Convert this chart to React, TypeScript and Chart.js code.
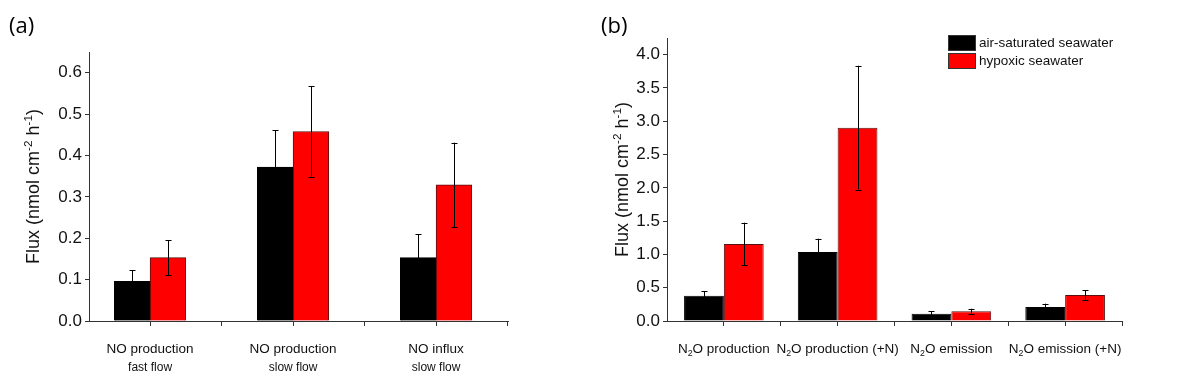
import React, { useEffect, useRef } from 'react';
import { Chart, registerables } from 'chart.js';
Chart.register(...registerables);

const FONT = '"Liberation Sans", Arial, sans-serif';

const seriesNames = ['air-saturated seawater', 'hypoxic seawater'];
const seriesColors = ['#000000', '#ff0000'];

const catA1 = ['NO production', 'NO production', 'NO influx'];
const catA2 = ['fast flow', 'slow flow', 'slow flow'];
const airA = [0.096, 0.372, 0.153];
const airAErr = [0.027, 0.089, 0.057];
const hypA = [0.153, 0.458, 0.329];
const hypAErr = [0.042, 0.109, 0.102];

const catB = ['N_{2}O production', 'N_{2}O production (+N)', 'N_{2}O emission', 'N_{2}O emission (+N)'];
const airB = [0.379, 1.037, 0.11, 0.21];
const airBErr = [0.07, 0.2, 0.035, 0.05];
const hypB = [1.157, 2.904, 0.145, 0.389];
const hypBErr = [0.32, 0.93, 0.04, 0.07];

const yTitle = 'Flux (nmol cm^{-2} h^{-1})';
const yTicksA = { max: 0.65, step: 0.05, major: 0.1 };
const yTicksB = { max: 4.25, step: 0.25, major: 0.5 };

type Seg = { t: string; k: 'n' | 'sup' | 'sub' };
function parseRich(s: string): Seg[] {
  const out: Seg[] = [];
  const re = /([\^_])\{([^}]*)\}/g;
  let last = 0;
  let m: RegExpExecArray | null;
  while ((m = re.exec(s))) {
    if (m.index > last) out.push({ t: s.slice(last, m.index), k: 'n' });
    out.push({ t: m[2], k: m[1] === '^' ? 'sup' : 'sub' });
    last = re.lastIndex;
  }
  if (last < s.length) out.push({ t: s.slice(last), k: 'n' });
  return out;
}

function drawRich(ctx: CanvasRenderingContext2D, s: string, x: number, y: number, size: number, align: 'left' | 'center', color: string) {
  const segs = parseRich(s);
  const small = size * 0.65;
  let w = 0;
  for (const sg of segs) {
    ctx.font = `${sg.k === 'n' ? size : small}px ${FONT}`;
    w += ctx.measureText(sg.t).width;
  }
  let cx = align === 'center' ? x - w / 2 : x;
  ctx.textAlign = 'left';
  ctx.textBaseline = 'alphabetic';
  ctx.fillStyle = color;
  for (const sg of segs) {
    const sz = sg.k === 'n' ? size : small;
    ctx.font = `${sz}px ${FONT}`;
    const dy = sg.k === 'sup' ? -size * 0.4 : sg.k === 'sub' ? size * 0.25 : 0;
    ctx.fillText(sg.t, cx, y + dy);
    cx += ctx.measureText(sg.t).width;
  }
}

type PanelCfg = {
  letter: string;
  lines1: string[];
  lines2: string[] | null;
  air: number[];
  airErr: number[];
  hyp: number[];
  hypErr: number[];
  yt: { max: number; step: number; major: number };
  xmin: number;
  xmax: number;
  catPct: number;
  yWidth: number;
  padTop: number;
  padRight: number;
  titleX: number;
  legend: boolean;
  tickFont: number;
};

function makeChart(canvas: HTMLCanvasElement, p: PanelCfg) {
  const n = p.air.length;
  const xTicks: number[] = [];
  for (let v = 1; v <= n + 0.5 + 1e-9; v += 0.5) xTicks.push(v);

  const errPlugin = {
    id: 'errbars',
    afterDatasetsDraw(chart: any) {
      const ctx = chart.ctx;
      const ys = chart.scales.y;
      const errs = [p.airErr, p.hypErr];
      const vals = [p.air, p.hyp];
      ctx.save();
      ctx.strokeStyle = '#000';
      ctx.lineWidth = 1;
      for (let d = 0; d < 2; d++) {
        const meta = chart.getDatasetMeta(d);
        meta.data.forEach((el: any, j: number) => {
          const x = Math.round(el.x) + 0.5;
          const top = ys.getPixelForValue(vals[d][j] + errs[d][j]);
          const bot = ys.getPixelForValue(vals[d][j] - errs[d][j]);
          ctx.beginPath();
          ctx.moveTo(x, bot);
          ctx.lineTo(x, top);
          ctx.moveTo(x - 3, Math.round(top) + 0.5);
          ctx.lineTo(x + 3, Math.round(top) + 0.5);
          ctx.moveTo(x - 3, Math.round(bot) + 0.5);
          ctx.lineTo(x + 3, Math.round(bot) + 0.5);
          ctx.stroke();
        });
      }
      ctx.restore();
    },
  };

  const textPlugin = {
    id: 'texts',
    afterDraw(chart: any) {
      const ctx = chart.ctx;
      const xs = chart.scales.x;
      const area = chart.chartArea;
      ctx.save();
      // panel letter
      ctx.font = `22px "Open Sans", ${FONT}`;
      ctx.fillStyle = '#000';
      ctx.textAlign = 'left';
      ctx.textBaseline = 'alphabetic';
      ctx.fillText(p.letter, p.letter === '(a)' ? 9 : 1, 33);
      // category labels
      for (let i = 0; i < n; i++) {
        const cx = xs.getPixelForValue(i + 1);
        drawRich(ctx, p.lines1[i], cx, 353, 13.5, 'center', '#111');
        if (p.lines2) drawRich(ctx, p.lines2[i], cx, 371, 12, 'center', '#111');
      }
      // y title
      ctx.save();
      ctx.translate(p.titleX, (area.top + area.bottom) / 2);
      ctx.rotate(-Math.PI / 2);
      drawRich(ctx, yTitle, 0, 0, 18, 'center', '#111');
      ctx.restore();
      // legend
      if (p.legend) {
        const lx = area.right - 174;
        const ly = area.top - 3;
        chart.data.datasets.forEach((ds: any, i: number) => {
          const by = ly + i * 18;
          ctx.fillStyle = ds.backgroundColor;
          ctx.fillRect(lx, by, 28, 16);
          ctx.strokeStyle = '#333';
          ctx.lineWidth = 1;
          ctx.strokeRect(lx + 0.5, by + 0.5, 27, 15);
          ctx.font = `13.5px ${FONT}`;
          ctx.fillStyle = '#111';
          ctx.textBaseline = 'middle';
          ctx.fillText(ds.label, lx + 31, by + 8);
        });
      }
      ctx.restore();
    },
  };

  return new Chart(canvas, {
    type: 'bar',
    data: {
      datasets: [
        {
          label: seriesNames[0],
          data: p.air.map((v, i) => ({ x: i + 1, y: v })),
          backgroundColor: seriesColors[0],
          borderColor: '#000',
          borderWidth: 1,
          categoryPercentage: p.catPct,
          barPercentage: 1,
        },
        {
          label: seriesNames[1],
          data: p.hyp.map((v, i) => ({ x: i + 1, y: v })),
          backgroundColor: seriesColors[1],
          borderColor: '#5a1010',
          borderWidth: 1,
          categoryPercentage: p.catPct,
          barPercentage: 1,
        },
      ] as any,
    },
    options: {
      animation: false,
      responsive: false,
      layout: { padding: { left: 0, top: p.padTop, right: p.padRight, bottom: 0 } },
      plugins: { legend: { display: false }, tooltip: { enabled: false } },
      scales: {
        x: {
          type: 'linear',
          min: p.xmin,
          max: p.xmax,
          offset: false,
          afterBuildTicks: (s: any) => {
            s.ticks = xTicks.map((v) => ({ value: v }));
          },
          afterFit: (s: any) => {
            s.height = 67;
          },
          ticks: { display: false },
          grid: { display: true, drawOnChartArea: false, drawTicks: true, tickLength: 5, color: '#333', offset: false },
          border: { display: true, color: '#333', width: 1 },
        },
        y: {
          type: 'linear',
          min: 0,
          max: p.yt.max,
          afterFit: (s: any) => {
            s.width = p.yWidth;
          },
          ticks: {
            stepSize: p.yt.step,
            padding: 3,
            color: '#111',
            font: { size: p.tickFont, family: FONT },
            callback: (v: any) => {
              const r = v / p.yt.major;
              return Math.abs(r - Math.round(r)) < 1e-6 ? Number(v).toFixed(1) : '';
            },
          },
          grid: { display: true, drawOnChartArea: false, drawTicks: true, tickLength: 4, color: '#333' },
          border: { display: true, color: '#333', width: 1 },
        },
      },
    } as any,
    plugins: [errPlugin, textPlugin],
  });
}

export default function App() {
  const refA = useRef<HTMLCanvasElement>(null);
  const refB = useRef<HTMLCanvasElement>(null);
  useEffect(() => {
    // bar group width is relative to the half-category tick spacing on this linear axis
    const a = makeChart(refA.current!, {
      letter: '(a)',
      lines1: catA1,
      lines2: catA2,
      air: airA,
      airErr: airAErr,
      hyp: hypA,
      hypErr: hypAErr,
      yt: yTicksA,
      xmin: 0.573,
      xmax: 3.503,
      catPct: 1.0,
      yWidth: 89,
      padTop: 52,
      padRight: 92,
      titleX: 39,
      legend: false,
      tickFont: 17,
    });
    const b = makeChart(refB.current!, {
      letter: '(b)',
      lines1: catB,
      lines2: null,
      air: airB,
      airErr: airBErr,
      hyp: hypB,
      hypErr: hypBErr,
      yt: yTicksB,
      xmin: 0.5,
      xmax: 4.5,
      catPct: 1.4,
      yWidth: 67,
      padTop: 38,
      padRight: 78,
      titleX: 28,
      legend: true,
      tickFont: 17,
    });
    return () => {
      a.destroy();
      b.destroy();
    };
  }, []);
  return (
    <div style={{ position: 'absolute', left: 0, top: 0, width: 1200, height: 388, background: '#fff', display: 'flex' }}>
      <canvas ref={refA} width={600} height={388} style={{ display: 'block' }} />
      <canvas ref={refB} width={600} height={388} style={{ display: 'block' }} />
    </div>
  );
}
